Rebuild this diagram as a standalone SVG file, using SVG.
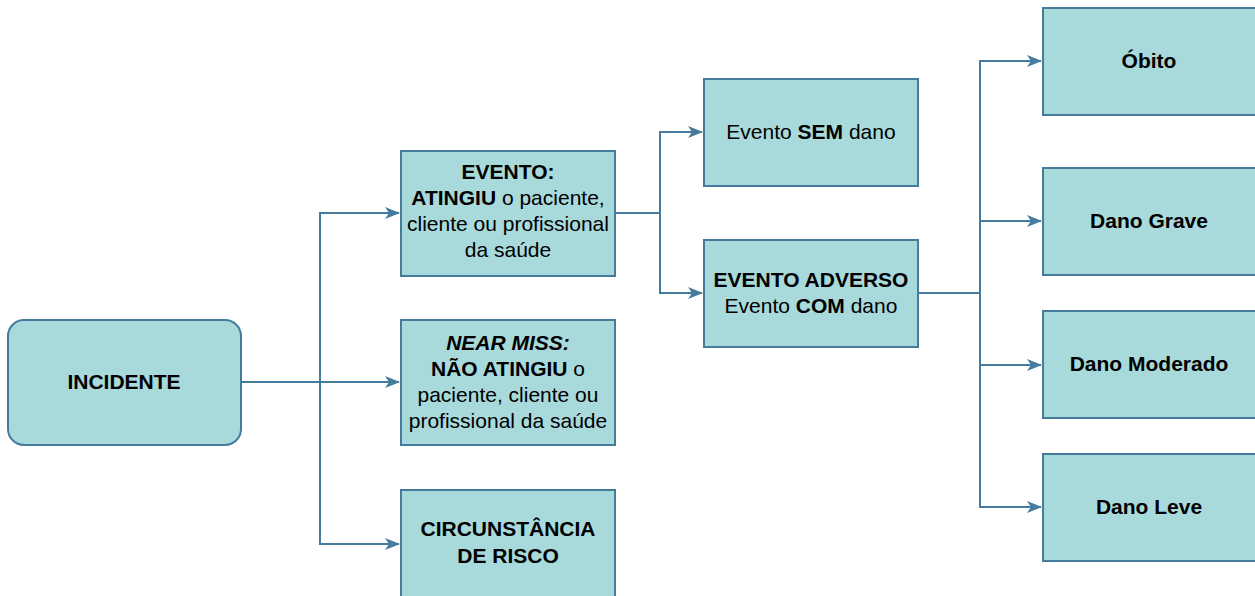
<svg xmlns="http://www.w3.org/2000/svg" width="1255" height="596" viewBox="0 0 1255 596">
<style>
.box{fill:#A8DADC;stroke:#457B9D;stroke-width:2}
.t{font-family:"Liberation Sans",Arial,sans-serif;font-size:21px;fill:#000;text-anchor:middle}
.b{font-weight:bold}
.c{fill:none;stroke:#457B9D;stroke-width:2}
</style>
<defs>
<marker id="ah" markerWidth="16" markerHeight="12" refX="14" refY="6" orient="auto" markerUnits="userSpaceOnUse">
<path d="M0,0 L15,6 L0,12 L4,6 Z" fill="#457B9D"/>
</marker>
</defs>
<g id="connectors">
<path class="c" d="M241,382 H399" marker-end="url(#ah)"/>
<path class="c" d="M320,382 V213 H399" marker-end="url(#ah)"/>
<path class="c" d="M320,382 V544 H399" marker-end="url(#ah)"/>
<path class="c" d="M615,213 H660 V132 H702" marker-end="url(#ah)"/>
<path class="c" d="M660,213 V293 H702" marker-end="url(#ah)"/>
<path class="c" d="M918,293 H980 V61 H1041" marker-end="url(#ah)"/>
<path class="c" d="M980,221 H1041" marker-end="url(#ah)"/>
<path class="c" d="M980,293 V507 H1041" marker-end="url(#ah)"/>
<path class="c" d="M980,365 H1041" marker-end="url(#ah)"/>
</g>
<g id="incidente">
<rect class="box" x="8" y="320" width="233" height="125" rx="16"/>
<text class="t b" x="124" y="389">INCIDENTE</text>
</g>
<g id="evento">
<rect class="box" x="401" y="151" width="214" height="125"/>
<text class="t" x="508" y="179"><tspan class="b">EVENTO:</tspan></text>
<text class="t" x="508" y="205"><tspan class="b">ATINGIU</tspan> o paciente,</text>
<text class="t" x="508" y="231">cliente ou profissional</text>
<text class="t" x="508" y="257">da saúde</text>
</g>
<g id="nearmiss">
<rect class="box" x="401" y="320" width="214" height="125"/>
<text class="t" x="508" y="350"><tspan class="b" font-style="italic">NEAR MISS:</tspan></text>
<text class="t" x="508" y="376"><tspan class="b">NÃO ATINGIU</tspan> o</text>
<text class="t" x="508" y="402">paciente, cliente ou</text>
<text class="t" x="508" y="428">profissional da saúde</text>
</g>
<g id="circunstancia">
<rect class="box" x="401" y="490" width="214" height="125"/>
<text class="t b" x="508" y="536">CIRCUNSTÂNCIA</text>
<text class="t b" x="508" y="563">DE RISCO</text>
</g>
<g id="sem-dano">
<rect class="box" x="704" y="79" width="214" height="107"/>
<text class="t" x="811" y="139">Evento <tspan class="b">SEM</tspan> dano</text>
</g>
<g id="evento-adverso">
<rect class="box" x="704" y="240" width="214" height="107"/>
<text class="t b" x="811" y="287">EVENTO ADVERSO</text>
<text class="t" x="811" y="313">Evento <tspan class="b">COM</tspan> dano</text>
</g>
<g id="obito">
<rect class="box" x="1043" y="8" width="214" height="107"/>
<text class="t b" x="1149" y="68">Óbito</text>
</g>
<g id="dano-grave">
<rect class="box" x="1043" y="168" width="214" height="107"/>
<text class="t b" x="1149" y="228">Dano Grave</text>
</g>
<g id="dano-moderado">
<rect class="box" x="1043" y="311" width="214" height="107"/>
<text class="t b" x="1149" y="371">Dano Moderado</text>
</g>
<g id="dano-leve">
<rect class="box" x="1043" y="454" width="214" height="107"/>
<text class="t b" x="1149" y="514">Dano Leve</text>
</g>
</svg>
